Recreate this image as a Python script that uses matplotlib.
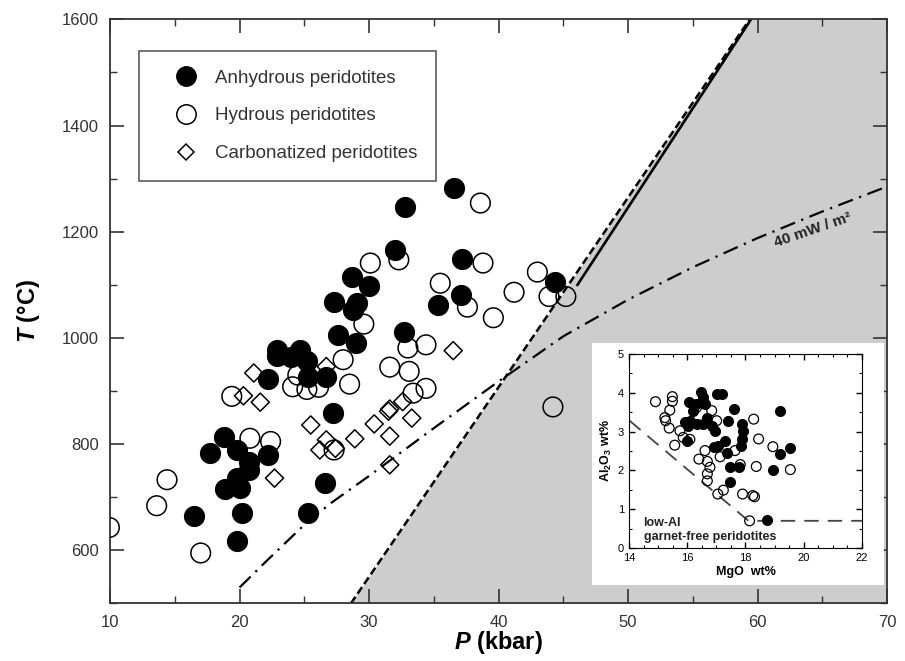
import numpy as np
import matplotlib
matplotlib.use("Agg")
from matplotlib import pyplot as plt
from matplotlib.patches import Rectangle
from matplotlib.lines import Line2D

plt.rcParams['font.family'] = ['Liberation Sans', 'DejaVu Sans']
plt.rcParams['mathtext.fontset'] = 'custom'
plt.rcParams['mathtext.it'] = 'Liberation Sans:bold:italic'
plt.rcParams['mathtext.rm'] = 'Liberation Sans:bold'
plt.rcParams['mathtext.bf'] = 'Liberation Sans:bold'

# main panel: P (kbar), T (C)
anhyd_P = [36.6, 32.8, 32.0, 37.2, 28.7, 30.0, 27.3, 28.8, 29.1, 35.3, 37.1, 44.4,
           27.6, 29.0, 32.7, 22.9, 22.9, 24.7, 25.2, 25.3, 26.7, 22.2, 24.0, 27.2,
           18.8, 17.7, 19.8, 20.7, 20.7, 19.8, 18.9, 20.0, 22.2, 16.5, 20.2, 19.8,
           26.6, 25.3]
anhyd_T = [1282, 1247, 1166, 1148, 1114, 1097, 1068, 1053, 1065, 1062, 1081, 1106,
           1006, 990, 1012, 978, 966, 978, 956, 927, 927, 922, 965, 858,
           813, 783, 789, 767, 752, 736, 715, 717, 780, 665, 671, 618,
           727, 670]

hydr_P = [38.6, 30.1, 32.3, 38.8, 43.0, 35.5, 41.2, 43.9, 45.2, 37.6, 39.6, 29.6,
          28.0, 31.6, 33.1, 34.4, 33.0, 28.5, 24.1, 25.2, 26.1, 24.5, 33.4, 34.4,
          19.4, 20.8, 22.4, 44.2, 14.4, 13.6, 9.95, 17.0, 27.3]
hydr_T = [1254, 1141, 1147, 1141, 1124, 1103, 1086, 1078, 1078, 1058, 1038, 1026,
          959, 945, 937, 987, 981, 913, 908, 903, 907, 930, 896, 905,
          890, 811, 805, 870, 733, 684, 643, 595, 789]

carb_P = [21.1, 20.3, 21.6, 26.7, 36.5, 25.5, 26.7, 28.9, 30.4, 31.6, 31.5, 32.6,
          33.3, 31.6, 31.6, 22.7, 26.2, 27.4]
carb_T = [934, 891, 879, 946, 976, 836, 808, 810, 838, 866, 862, 880,
          849, 815, 761, 736, 789, 792]

# garnet-in boundary (dashed) and solid segment
bound_P = [28.6, 59.4]
bound_T = [500, 1600]
solid_P = [46.1, 59.5]
solid_T = [1100, 1600]

# 40 mW/m2 geotherm
geo_P = [20, 22, 25, 27, 30, 35, 40, 45, 50, 55, 60, 65, 70]
geo_T = [530, 578, 648, 688, 740, 830, 918, 1003, 1072, 1133, 1188, 1238, 1285]

# inset: MgO vs Al2O3 (wt%)
in_open_mgo = [14.91, 15.49, 15.49, 15.40, 15.23, 15.26, 15.38, 15.57, 15.75, 15.86,
               16.09, 16.32, 16.55, 16.84, 16.61, 16.40, 16.69, 16.78, 16.69, 16.69,
               17.01, 17.13, 17.05, 17.24, 17.64, 17.82, 17.90, 18.25, 18.31, 18.28,
               18.45, 18.37, 18.14, 18.94, 19.54]
in_open_al = [3.77, 3.90, 3.78, 3.55, 3.36, 3.28, 3.09, 2.65, 3.02, 2.85,
              2.80, 3.62, 3.79, 3.54, 2.51, 2.29, 2.23, 2.08, 1.91, 1.73,
              3.28, 2.35, 1.39, 1.49, 2.51, 2.15, 1.39, 1.35, 1.32, 3.32,
              2.81, 2.10, 0.70, 2.61, 2.02]
in_fill_mgo = [16.07, 16.21, 16.30, 16.47, 16.55, 16.61, 16.09, 15.92, 15.98, 16.03,
               16.32, 16.55, 16.67, 16.84, 16.95, 17.03, 17.18, 16.92, 17.05, 17.30,
               17.41, 17.62, 17.38, 17.47, 17.47, 17.79, 17.87, 17.93, 17.87, 17.84,
               18.74, 19.20, 19.17, 18.94, 19.52]
in_fill_al = [3.77, 3.54, 3.71, 4.01, 3.90, 3.71, 3.28, 3.24, 2.76, 3.15,
              3.19, 3.19, 3.35, 3.15, 3.02, 3.97, 3.97, 2.59, 2.64, 2.76,
              3.28, 3.58, 2.46, 2.09, 1.69, 2.08, 3.19, 3.02, 2.81, 2.64,
              0.72, 3.54, 2.42, 2.02, 2.58]
lowal_mgo = [14.02, 18.1, 22.0]
lowal_al = [3.28, 0.70, 0.70]

fig = plt.figure(figsize=(9.05, 6.61), dpi=100)
ax = fig.add_axes([0.1216, 0.0871, 0.8585, 0.8837])

ax.fill_between([bound_P[0], bound_P[1], 70], [bound_T[0], bound_T[1], 1600],
                [500, 500, 500], color='#cdcdcd', lw=0, zorder=0)
ax.plot(bound_P, bound_T, color='k', lw=1.8, ls=(0, (3.2, 1.5)), zorder=1)
ax.plot(solid_P, solid_T, color='k', lw=1.9, zorder=1)
ax.plot(geo_P, geo_T, color='k', lw=1.6, ls=(0, (7, 3, 1, 3)), zorder=1)
ax.text(64.3, 1204, '40 mW / m²', rotation=19, ha='center', va='center',
        fontsize=11, fontweight='bold', color='#222222')

ax.scatter(carb_P, carb_T, marker='D', s=85, facecolors='none', edgecolors='k',
           linewidths=1.1, zorder=2)
ax.scatter(hydr_P, hydr_T, marker='o', s=200, facecolors='none', edgecolors='k',
           linewidths=1.1, zorder=3)
ax.scatter(anhyd_P, anhyd_T, marker='o', s=200, facecolors='k', edgecolors='k',
           linewidths=1.1, zorder=4)

ax.set_xlim(10, 70)
ax.set_ylim(500, 1600)
ax.set_xticks(np.arange(10, 71, 10))
ax.set_xticks(np.arange(15, 70, 10), minor=True)
ax.set_yticks(np.arange(600, 1601, 200))
ax.set_yticks(np.arange(500, 1600, 200), minor=True)
ax.tick_params(which='both', direction='in', top=True, right=True, labelsize=12,
               colors='#333333', labelcolor='#333333')
ax.tick_params(which='major', length=10, width=1.2, pad=8)
ax.tick_params(which='minor', length=5, width=1.0)
for sp in ax.spines.values():
    sp.set_linewidth(1.3)
    sp.set_color('#333333')
ax.set_xlabel(r'$P$ (kbar)', fontsize=17, fontweight='bold')
ax.set_ylabel(r'$T$ (°C)', fontsize=17, fontweight='bold', labelpad=14)
ax.xaxis.set_label_coords(0.5, -0.043)
ax.xaxis.label.set_va('top')

handles = [
    Line2D([], [], ls='none', marker='o', ms=14, mfc='k', mec='k'),
    Line2D([], [], ls='none', marker='o', ms=14, mfc='none', mec='k', mew=1.1),
    Line2D([], [], ls='none', marker='D', ms=8.5, mfc='none', mec='k', mew=1.1),
]
labels = ['Anhydrous peridotites', 'Hydrous peridotites', 'Carbonatized peridotites']
leg = ax.legend(handles, labels, loc='upper left', bbox_to_anchor=(0.037, 0.946),
                borderaxespad=0, fontsize=13.5, frameon=True, fancybox=False,
                edgecolor='#333333', borderpad=1.0, labelspacing=1.1,
                handlelength=3.0, handletextpad=0.05)
leg.get_frame().set_linewidth(1.2)
for t in leg.get_texts():
    t.set_color('#333333')

# white box behind the inset
ax.add_patch(Rectangle((0.654, 0.115), 0.323, 0.366, transform=fig.transFigure,
                       facecolor='white', edgecolor='none', zorder=6, clip_on=False))

ins = fig.add_axes([0.695, 0.171, 0.2575, 0.2935])
ins.scatter(in_open_mgo, in_open_al, s=50, facecolors='none', edgecolors='k',
            linewidths=0.9, zorder=2)
ins.scatter(in_fill_mgo, in_fill_al, s=50, facecolors='k', edgecolors='k',
            linewidths=0.9, zorder=3)
ins.plot(lowal_mgo, lowal_al, color='#444444', lw=1.3, ls=(0, (8, 5)), zorder=1)
ins.text(14.5, 0.2, 'low-AI\ngarnet-free peridotites', fontsize=9,
         fontweight='bold', color='#222222', linespacing=1.3)
ins.set_xlim(14, 22)
ins.set_ylim(0, 5)
ins.set_xticks(np.arange(14, 23, 2))
ins.set_xticks(np.arange(14, 22.1, 0.5), minor=True)
ins.set_yticks(np.arange(0, 6, 1))
ins.set_yticks(np.arange(0, 5.1, 0.5), minor=True)
ins.tick_params(which='both', direction='in', top=True, right=True, labelsize=8)
ins.tick_params(which='major', length=4, width=1.0)
ins.tick_params(which='minor', length=2, width=0.8)
ins.set_xlabel('MgO  wt%', fontsize=9, fontweight='bold', labelpad=2)
ins.set_ylabel(r'Al$_2$O$_3$ wt%', fontsize=9, fontweight='bold', labelpad=3)

fig.savefig('out.png', dpi=100)
